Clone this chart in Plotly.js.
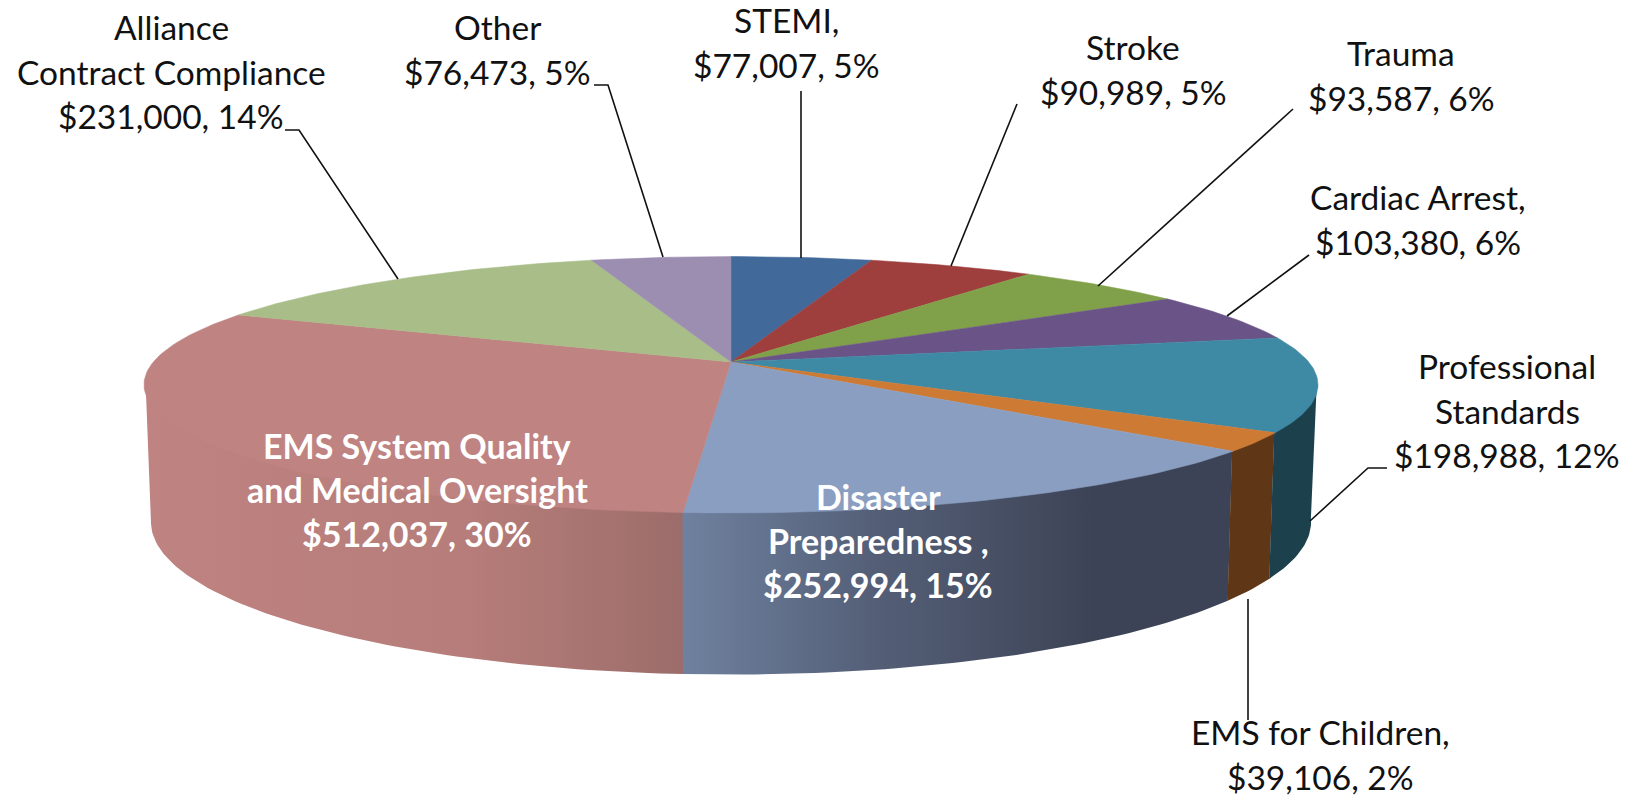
<!DOCTYPE html>
<html><head><meta charset="utf-8">
<script src="https://cdn.plot.ly/plotly-3.0.1.min.js"></script>
<style>html,body{margin:0;padding:0;background:#fff;overflow:hidden}</style>
</head><body><div id="chart" style="width:1635px;height:797px"></div>
<script>
// Data, clockwise from 12 o'clock
const categories = ['STEMI','Stroke','Trauma','Cardiac Arrest','Professional Standards','EMS for Children','Disaster Preparedness','EMS System Quality and Medical Oversight','Alliance Contract Compliance','Other'];
const amounts = [77007,90989,93587,103380,198988,39106,252994,512037,231000,76473];
const percents = [5,5,6,6,12,2,15,30,14,5];
const labelHeads = [['STEMI,'],['Stroke'],['Trauma'],['Cardiac Arrest,'],['Professional','Standards'],['EMS for Children,'],['Disaster','Preparedness ,'],['EMS System Quality','and Medical Oversight'],['Alliance','Contract Compliance'],['Other']];

// Styles
const topColors = ['#41699a','#9e3f3d','#80a04a','#6a5387','#3e8aa5','#cd7a35','#8a9ec1','#bf8381','#a9bd88','#9c8eb0'];
const wallGradients = {
  4:[[0,'#1c414d'],[1,'#1c414d']],
  5:[[0,'#5f3616'],[1,'#5f3616']],
  6:[[0,'#6f819f'],[0.35,'#545f77'],[0.75,'#3d4356'],[1,'#3d4356']],
  7:[[0,'#bf8381'],[0.6,'#b67d7a'],[0.85,'#a67370'],[1,'#9b6c6a']]
};
// Label placement: centre x, first line y (pixels)
const labelPos = [[786,20],[1133,47],[1401,53],[1418,197],[1507,366],[1320,732],[878,496],[417,445],[171,27],[497,27]];
const lineStep = 44.6;
const leaders = [
  [[801,91],[801,258]],
  [[1017,104],[951,266]],
  [[1293,109],[1098,286]],
  [[1309,255],[1227,316]],
  [[1387,468],[1368,468],[1310,521]],
  [[1248,720],[1248,599]],
  [[285,130],[299,130],[398,279]],
  [[594,85],[608,85],[663,257]]
];

// Projection of the disc (perspective view)
const cx = 731;
const topDisc = {cy:362, a:577.7, b:124.2, k:0.1774};
const wallTop = {cy:362, a:576.7, b:122.2, k:0.1774};
const botDisc = {cy:494.5, a:570.6, b:147.7, k:0.18};
function project(d, deg){
  const t = deg*Math.PI/180, X = Math.sin(t), Y = -Math.cos(t), w = 1-d.k*Y;
  return [cx + d.a*X/w, d.cy + d.b*Y/w];
}
function arc(d, from, to){
  const pts = [], n = Math.max(2, Math.ceil(Math.abs(to-from)));
  for(let i=0;i<=n;i++) pts.push(project(d, from+(to-from)*i/n));
  return pts;
}
const total = amounts.reduce((s,v)=>s+v,0);
let run = 0;
const spans = amounts.map(v=>{const s=[run/total*360,(run+v)/total*360]; run+=v; return s;});

const traces = [];
function poly(pts, extra){
  traces.push(Object.assign({type:'scatter',mode:'lines',x:pts.map(p=>p[0]),y:pts.map(p=>p[1]),
    fill:'toself',line:{width:0},hoverinfo:'skip',showlegend:false},extra));
}
// Side walls of the front half (upper edge tucked under the top face; tiny overlap hides seams)
const wallLimit = {left:262, right:99};
Object.keys(wallGradients).forEach(key=>{
  const i = +key;
  const from = Math.max(spans[i][0], wallLimit.right), to = Math.min(spans[i][1]+0.04, wallLimit.left);
  const pts = arc(wallTop, from, to).concat(arc(botDisc, to, from));
  pts.push(pts[0]);
  traces.unshift({type:'scatter',mode:'lines',x:pts.map(p=>p[0]),y:pts.map(p=>p[1]),fill:'toself',line:{width:0},
    hoverinfo:'skip',showlegend:false,fillcolor:wallGradients[key][0][1],
    fillgradient:{type:'horizontal',colorscale:wallGradients[key]}});
});
// Top face
spans.forEach((s,i)=>{
  const pts = [[cx,topDisc.cy]].concat(arc(topDisc,s[0],s[1]));
  pts.push([cx,topDisc.cy]);
  poly(pts, {fillcolor:topColors[i],line:{width:0.5,color:topColors[i]}});
});
// Leader lines
leaders.forEach(l=>traces.push({type:'scatter',mode:'lines',x:l.map(p=>p[0]),y:l.map(p=>p[1]),
  line:{color:'#111',width:1.6},hoverinfo:'skip',showlegend:false}));

// Labels
const annotations = [];
const insideLabels = [6,7];
categories.forEach((c,i)=>{
  const money = '$'+amounts[i].toLocaleString('en-US')+', '+percents[i]+'%';
  const inside = insideLabels.includes(i);
  labelHeads[i].concat([money]).forEach((line,j)=>{
    annotations.push({xref:'x',yref:'y',x:labelPos[i][0],y:labelPos[i][1]+j*(inside?44:lineStep),text:inside?'<b>'+line+'</b>':line,
      showarrow:false,xanchor:'center',yanchor:'middle',
      font:{family:'Lato, "Open Sans", sans-serif',size:inside?34:33.5,color:inside?'#ffffff':'#111111'}});
  });
});

Plotly.newPlot('chart',traces,{
  width:1635,height:797,margin:{l:0,r:0,t:0,b:0},paper_bgcolor:'#fff',plot_bgcolor:'#fff',showlegend:false,
  xaxis:{range:[0,1635],visible:false,fixedrange:true},
  yaxis:{range:[797,0],visible:false,fixedrange:true},
  annotations
},{displayModeBar:false,staticPlot:true});
</script></body></html>
